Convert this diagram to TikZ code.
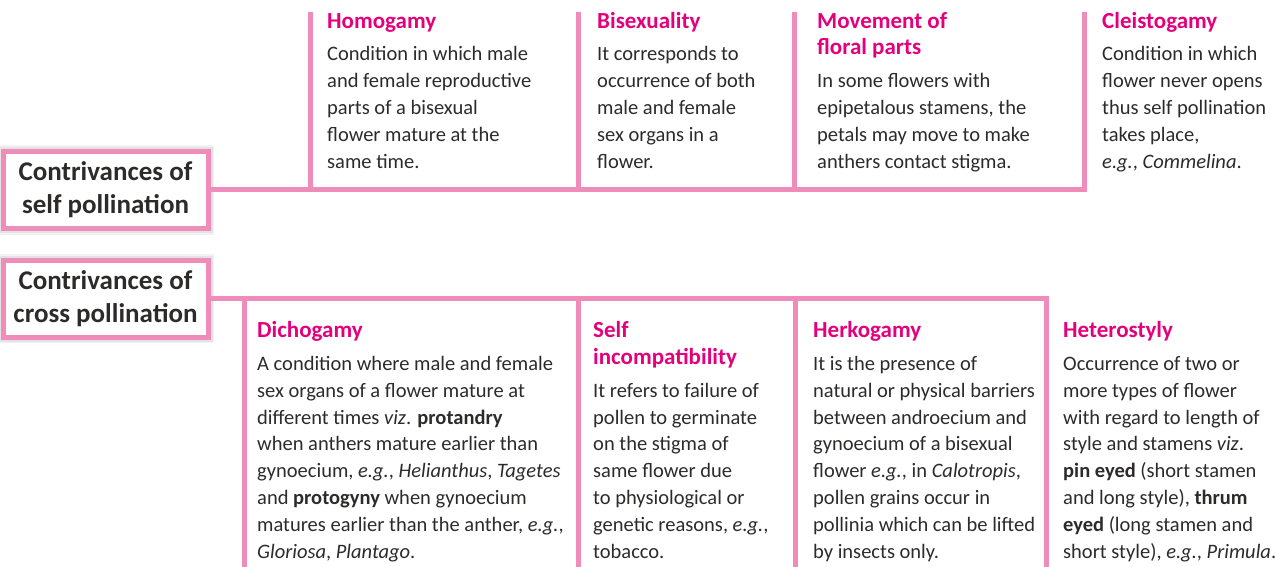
\documentclass[tikz,border=0pt]{standalone}
\usepackage{fontspec}
\setmainfont{Carlito}
\definecolor{pinkline}{RGB}{240,140,185}
\definecolor{titlemag}{RGB}{228,0,125}
\definecolor{bodytxt}{RGB}{45,42,42}
\newcommand{\ttl}[1]{{\fontsize{23}{26.8}\selectfont\bfseries\color{titlemag}#1}}
\tikzset{
  conn/.style={draw=pinkline, line width=5pt},
  mainbox/.style={draw=pinkline, line width=5pt, fill=white, minimum width=205pt,
    minimum height=77pt, inner sep=0pt, align=center, text=bodytxt,
    font=\fontsize{27}{33}\selectfont\bfseries,
    preaction={draw=black!5, line width=12pt},
    preaction={draw=black!11, line width=9pt}},
  info/.style={anchor=base west, inner sep=0pt, align=left, text=bodytxt,
    font=\fontsize{20.5}{26.8}\selectfont},
}
\begin{document}
\begin{tikzpicture}[x=1pt,y=-1pt]
\useasboundingbox (0,0) rectangle (1275,567);

% main boxes
\node[mainbox] (selfbox) at (105.5,190) {Contrivances of\\self pollination};
\node[mainbox] (crossbox) at (105.5,298.5) {Contrivances of\\cross pollination};

% top connectors
\coordinate (s1) at (310,12);
\coordinate (s2) at (578.5,12);
\coordinate (s3) at (794.5,12);
\coordinate (s4) at (1084.5,12);
\draw[conn] (selfbox.east) -| (s4);
\draw[conn] (s1) -- (s1 |- selfbox.east);
\draw[conn] (s2) -- (s2 |- selfbox.east);
\draw[conn] (s3) -- (s3 |- selfbox.east);

% bottom connectors
\coordinate (c1) at (244,567);
\coordinate (c2) at (578.5,567);
\coordinate (c3) at (795,567);
\coordinate (c4) at (1046.5,567);
\draw[conn] (crossbox.east) -| (c4);
\draw[conn] (c1 |- crossbox.east) -- (c1);
\draw[conn] (c2 |- crossbox.east) -- (c2);
\draw[conn] (c3 |- crossbox.east) -- (c3);

% top texts (anchored at the baseline of the last line)
\node[info] (homo) at (327,168) {\ttl{Homogamy}\\[6pt]
Condition in which male\\
and female reproductive\\
parts of a bisexual\\
flower mature at the\\
same time.};
\node[info] (bisex) at (597,168) {\ttl{Bisexuality}\\[6pt]
It corresponds to\\
occurrence of both\\
male and female\\
sex organs in a\\
flower.};
\node[info] (move) at (817,168) {\ttl{Movement of}\\
\ttl{floral parts}\\[6pt]
In some flowers with\\
epipetalous stamens, the\\
petals may move to make\\
anthers contact stigma.};
\node[info] (cleisto) at (1102,168) {\ttl{Cleistogamy}\\[6pt]
Condition in which\\
flower never opens\\
thus self pollination\\
takes place,\\
\textit{e.g.}, \textit{Commelina}.};

% bottom texts
\node[info] (dicho) at (257,558) {\ttl{Dichogamy}\\[6pt]
A condition where male and female\\
sex organs of a flower mature at\\
different times \textit{viz}. \textbf{protandry}\\
when anthers mature earlier than\\
gynoecium, \textit{e.g.}, \textit{Helianthus}, \textit{Tagetes}\\
and \textbf{protogyny} when gynoecium\\
matures earlier than the anther, \textit{e.g.},\\
\textit{Gloriosa}, \textit{Plantago}.};
\node[info] (selfinc) at (593,558) {\ttl{Self}\\
\ttl{incompatibility}\\[6pt]
It refers to failure of\\
pollen to germinate\\
on the stigma of\\
same flower due\\
to physiological or\\
genetic reasons, \textit{e.g.},\\
tobacco.};
\node[info] (herko) at (813,558) {\ttl{Herkogamy}\\[6pt]
It is the presence of\\
natural or physical barriers\\
between androecium and\\
gynoecium of a bisexual\\
flower \textit{e.g.}, in \textit{Calotropis},\\
pollen grains occur in\\
pollinia which can be lifted\\
by insects only.};
\node[info] (hetero) at (1063,558) {\ttl{Heterostyly}\\[6pt]
Occurrence of two or\\
more types of flower\\
with regard to length of\\
style and stamens \textit{viz}.\\
\textbf{pin eyed} (short stamen\\
and long style), \textbf{thrum}\\
\textbf{eyed} (long stamen and\\
short style), \textit{e.g.}, \textit{Primula}.};
\end{tikzpicture}
\end{document}
